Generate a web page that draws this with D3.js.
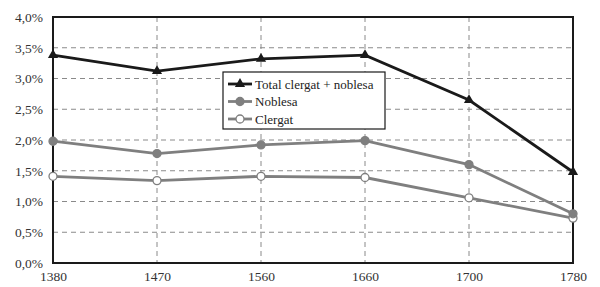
<!DOCTYPE html>
<html><head><meta charset="utf-8">
<script src="https://cdn.jsdelivr.net/npm/d3@7"></script>
<style>body{margin:0;background:#fff}svg{display:block}</style>
</head><body><svg id="c" width="600" height="287"></svg>
<script>
const years = ["1380","1470","1560","1660","1700","1780"];
const total = [3.38, 3.12, 3.32, 3.38, 2.65, 1.48];
const noblesa = [1.98, 1.78, 1.92, 1.99, 1.60, 0.80];
const clergat = [1.41, 1.34, 1.41, 1.39, 1.06, 0.73];
const yTicks = [0, 0.5, 1, 1.5, 2, 2.5, 3, 3.5, 4];
const seriesNames = ["Total clergat + noblesa", "Noblesa", "Clergat"];

const svg = d3.select("#c");
const L = 53, R = 573, T = 17, B = 263;
const x = d3.scalePoint().domain(years).range([L, R]);
const y = d3.scaleLinear().domain([0, 4]).range([B, T]);
const font = "'Liberation Serif', 'Times New Roman', serif";

// grid
svg.append("g").selectAll("line").data(yTicks.filter(d => d > 0 && d < 4)).join("line")
  .attr("x1", L).attr("x2", R).attr("y1", d => y(d)).attr("y2", d => y(d))
  .attr("stroke", "#8a8a8a").attr("stroke-width", 1).attr("stroke-dasharray", "5,4");
svg.append("g").selectAll("line").data(years.slice(1, -1)).join("line")
  .attr("x1", d => x(d)).attr("x2", d => x(d)).attr("y1", T).attr("y2", B)
  .attr("stroke", "#8a8a8a").attr("stroke-width", 1).attr("stroke-dasharray", "5,4");

// axes
const yAxis = d3.axisLeft(y).tickValues(yTicks).tickSize(0).tickPadding(10)
  .tickFormat(d => d3.format(".1f")(d).replace(".", ",") + "%");
const gy = svg.append("g").attr("transform", `translate(${L},0)`).call(yAxis);
gy.select(".domain").remove();
gy.selectAll("text").style("font-family", font).style("font-size", "13.5px").attr("fill", "#333");
const xAxis = d3.axisBottom(x).tickSize(0).tickPadding(8);
const gx = svg.append("g").attr("transform", `translate(0,${B})`).call(xAxis);
gx.select(".domain").remove();
gx.selectAll("text").style("font-family", font).style("font-size", "13.5px").attr("fill", "#333");

// frame
svg.append("rect").attr("x", L).attr("y", T).attr("width", R - L).attr("height", B - T)
  .attr("fill", "none").attr("stroke", "#1a1a1a").attr("stroke-width", 2);

const line = d3.line().x((d, i) => x(years[i])).y(d => y(d));
const series = [
  {name: seriesNames[0], data: total, color: "#1a1a1a", marker: "tri", fill: "#1a1a1a"},
  {name: seriesNames[1], data: noblesa, color: "#7f7f7f", marker: "circ", fill: "#7f7f7f"},
  {name: seriesNames[2], data: clergat, color: "#7f7f7f", marker: "circ", fill: "#fff"}
];
const tri = d3.symbol().type(d3.symbolTriangle).size(45);
function drawMarker(g, s, cx, cy) {
  if (s.marker === "tri") {
    g.append("path").attr("d", tri()).attr("transform", `translate(${cx},${cy})`).attr("fill", s.fill);
  } else {
    g.append("circle").attr("cx", cx).attr("cy", cy).attr("r", 4)
      .attr("fill", s.fill).attr("stroke", s.color).attr("stroke-width", 1.3);
  }
}
[2, 1, 0].forEach(k => {
  const s = series[k];
  const g = svg.append("g");
  g.append("path").attr("d", line(s.data)).attr("fill", "none").attr("stroke", s.color).attr("stroke-width", 2.8);
  s.data.forEach((v, i) => drawMarker(g, s, x(years[i]), y(v)));
});

// legend
const lg = svg.append("g");
lg.append("rect").attr("x", 223).attr("y", 72).attr("width", 162).attr("height", 57)
  .attr("fill", "#fff").attr("stroke", "#1a1a1a").attr("stroke-width", 1.2);
series.forEach((s, i) => {
  const yy = 84 + i * 17.5;
  lg.append("line").attr("x1", 228).attr("x2", 252).attr("y1", yy).attr("y2", yy)
    .attr("stroke", s.color).attr("stroke-width", 2.8);
  drawMarker(lg, s, 240, yy);
  lg.append("text").attr("x", 255).attr("y", yy + 4.5).text(s.name)
    .style("font-family", font).style("font-size", "13px").attr("fill", "#222");
});
</script></body></html>
